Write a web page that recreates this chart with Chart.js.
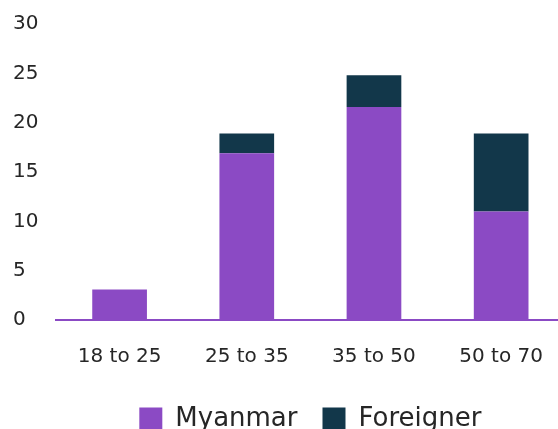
<!DOCTYPE html>
<html>
<head>
<meta charset="utf-8">
<script src="https://cdn.jsdelivr.net/npm/chart.js@4"></script>
<style>
html,body{margin:0;padding:0;background:#fff;overflow:hidden;width:558px;height:429px;}
#wrap{position:absolute;left:0;top:0;width:568px;height:442px;}
</style>
</head>
<body>
<div id="wrap"><canvas id="c" width="568" height="442"></canvas></div>
<script>
const categories = ["18 to 25", "25 to 35", "35 to 50", "50 to 70"];
const myanmar = [3.1, 16.9, 21.6, 11.0];
const foreigner = [0, 2.0, 3.2, 7.9];
const seriesNames = ["Myanmar", "Foreigner"];
const yTicks = [0, 5, 10, 15, 20, 25, 30];

const FONT = "'DejaVu Sans', sans-serif";
new Chart(document.getElementById('c'), {
  type: 'bar',
  data: {
    labels: categories,
    datasets: [
      {label: seriesNames[0], data: myanmar, backgroundColor: '#8B4AC4', borderWidth: 0},
      {label: seriesNames[1], data: foreigner, backgroundColor: '#12374A', borderWidth: 0}
    ]
  },
  options: {
    responsive: false,
    animation: false,
    datasets: {bar: {categoryPercentage: 1.0, barPercentage: 0.43}},
    layout: {padding: {left: 13, top: 24, right: 0, bottom: 0}},
    plugins: {
      tooltip: {enabled: false},
      legend: {
        position: 'bottom',
        fullSize: false,
        labels: {
          boxWidth: 23, boxHeight: 23, padding: 25,
          color: '#262626',
          font: {family: FONT, size: 26}
        }
      }
    },
    scales: {
      x: {
        stacked: true,
        afterFit: (s) => { s.height = 61; },
        grid: {display: false, drawTicks: false},
        border: {display: true, color: '#8B4AC4', width: 2},
        ticks: {color: '#262626', padding: 25, font: {family: FONT, size: 20}}
      },
      y: {
        stacked: true,
        min: 0, max: 30,
        afterBuildTicks: (s) => { s.ticks = yTicks.map(v => ({value: v})); },
        afterFit: (s) => { s.width = 43; },
        grid: {display: false, drawTicks: false},
        border: {display: false},
        ticks: {color: '#262626', crossAlign: 'far', padding: 0, font: {family: FONT, size: 20}}
      }
    }
  }
});
</script>
</body>
</html>
